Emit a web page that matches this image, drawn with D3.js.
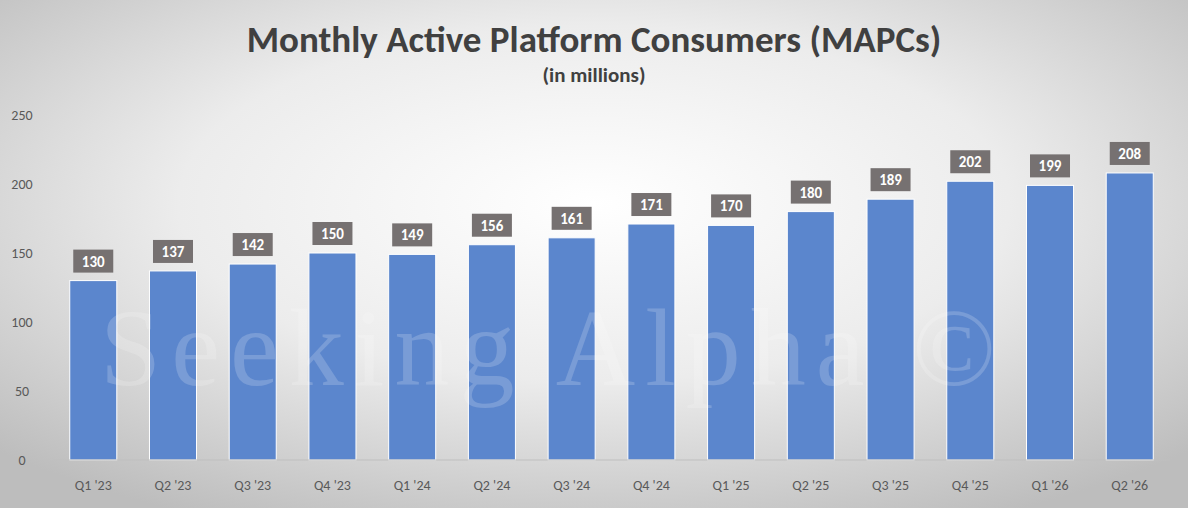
<!DOCTYPE html>
<html><head><meta charset="utf-8">
<script src="https://cdn.jsdelivr.net/npm/d3@7"></script>
<style>body{margin:0;overflow:hidden}</style>
</head><body><div id="chart"></div>
<script>
const quarters = ["Q1 '23","Q2 '23","Q3 '23","Q4 '23","Q1 '24","Q2 '24","Q3 '24","Q4 '24","Q1 '25","Q2 '25","Q3 '25","Q4 '25","Q1 '26","Q2 '26"];
const mapcs = [130,137,142,150,149,156,161,171,170,180,189,202,199,208];
const yTicks = [0,50,100,150,200,250];

const W = 1188, H = 508;
const svg = d3.select("#chart").append("svg").attr("width", W).attr("height", H)
    .style("font-family", "Calibri, Carlito, 'Open Sans', sans-serif");

const grad = svg.append("defs").append("radialGradient").attr("id", "bg")
    .attr("cx", "50%").attr("cy", "40%").attr("r", "70%");
grad.append("stop").attr("offset", "0%").attr("stop-color", "#ffffff");
grad.append("stop").attr("offset", "50%").attr("stop-color", "#ececec");
grad.append("stop").attr("offset", "100%").attr("stop-color", "#bdbdbd");
svg.append("rect").attr("width", W).attr("height", H).attr("fill", "url(#bg)");

const x = d3.scaleBand().domain(quarters).range([53, 1170]).paddingInner(0.41).paddingOuter(0.21);
const y = d3.scaleLinear().domain([0, 250]).range([460, 115]);

svg.append("text").attr("x", 594).attr("y", 52).attr("text-anchor", "middle")
    .attr("font-size", 37).attr("font-weight", "bold").attr("fill", "#404040")
    .text("Monthly Active Platform Consumers (MAPCs)");
svg.append("text").attr("x", 594).attr("y", 82).attr("text-anchor", "middle")
    .attr("font-size", 21).attr("font-weight", "bold").attr("fill", "#404040")
    .text("(in millions)");

svg.selectAll("text.yt").data(yTicks).enter().append("text")
    .attr("x", 22).attr("y", d => y(d) + 5).attr("text-anchor", "middle")
    .attr("font-size", 14).attr("fill", "#595959").text(d => d);

svg.selectAll("rect.bar").data(mapcs).enter().append("rect")
    .attr("x", (d, i) => x(quarters[i])).attr("width", x.bandwidth())
    .attr("y", d => y(d)).attr("height", d => y(0) - y(d))
    .attr("fill", "#5b86cd").attr("stroke", "#ffffff").attr("stroke-width", 1);

// watermark
svg.append("text").attr("x", 100).attr("y", 385).attr("font-size", 110)
    .attr("font-family", "'Liberation Serif', serif").attr("fill", "#ffffff").attr("opacity", 0.18)
    .attr("letter-spacing", 10).text("Seeking Alpha ©");

svg.append("line").attr("x1", 53).attr("x2", 1170).attr("y1", y(0)).attr("y2", y(0))
    .attr("stroke", "#bfbfbf");

const lab = svg.selectAll("g.lab").data(mapcs).enter().append("g")
    .attr("transform", (d, i) => `translate(${x(quarters[i]) + x.bandwidth() / 2},${y(d) - 20})`);
lab.append("rect").attr("x", -20).attr("y", -11).attr("width", 40).attr("height", 23).attr("fill", "#767171");
lab.append("text").attr("y", 6).attr("text-anchor", "middle").attr("font-size", 15)
    .attr("font-weight", "bold").attr("fill", "#ffffff").text(d => d);

svg.selectAll("text.xt").data(quarters).enter().append("text")
    .attr("x", d => x(d) + x.bandwidth() / 2).attr("y", 490).attr("text-anchor", "middle")
    .attr("font-size", 14).attr("fill", "#595959").text(d => d);
</script></body></html>
